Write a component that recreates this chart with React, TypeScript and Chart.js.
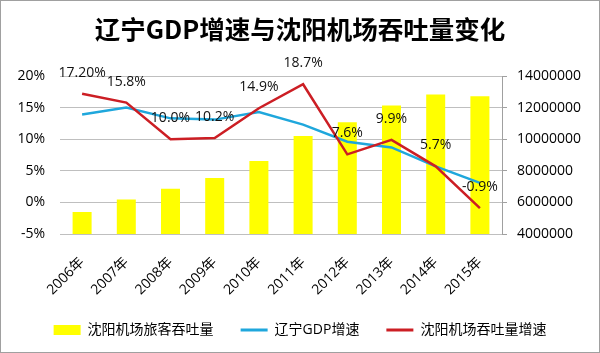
import React, { useEffect, useRef } from 'react';
import { Chart, registerables } from 'chart.js';

Chart.register(...registerables);

const titleText = '辽宁GDP增速与沈阳机场吞吐量变化';
const categories = ['2006年', '2007年', '2008年', '2009年', '2010年', '2011年', '2012年', '2013年', '2014年', '2015年'];
const passengerThroughput = [5400000, 6180000, 6870000, 7550000, 8620000, 10200000, 11070000, 12140000, 12830000, 12720000];
const gdpGrowth = [13.9, 15.0, 13.3, 13.1, 14.3, 12.3, 9.6, 8.7, 5.7, 3.1];
const airportGrowth = [17.2, 15.8, 10.0, 10.2, 14.9, 18.7, 7.6, 9.9, 5.7, -0.9];
const airportGrowthLabels = ['17.20%', '15.8%', '10.0%', '10.2%', '14.9%', '18.7%', '7.6%', '9.9%', '5.7%', '-0.9%'];
const seriesNames = ['沈阳机场旅客吞吐量', '辽宁GDP增速', '沈阳机场吞吐量增速'];

const FONT = "'Open Sans', 'Noto Sans CJK SC', sans-serif";

const labelPlugin = {
  id: 'redLabels',
  afterDatasetsDraw(chart: any) {
    const meta = chart.getDatasetMeta(2);
    const ctx = chart.ctx;
    ctx.save();
    ctx.font = `14px ${FONT}`;
    ctx.fillStyle = '#111';
    ctx.textAlign = 'center';
    ctx.textBaseline = 'middle';
    meta.data.forEach((pt: any, i: number) => {
      ctx.fillText(airportGrowthLabels[i], pt.x, pt.y - 21);
    });
    ctx.restore();
  },
};

const framePlugin = {
  id: 'frame',
  beforeDraw(chart: any) {
    const ctx = chart.ctx;
    ctx.save();
    ctx.fillStyle = '#fff';
    ctx.fillRect(0, 0, chart.width, chart.height);
    ctx.restore();
  },
  afterDraw(chart: any) {
    const ctx = chart.ctx;
    ctx.save();
    ctx.strokeStyle = '#a0a0a0';
    ctx.lineWidth = 1;
    ctx.strokeRect(0.5, 0.5, chart.width - 1, chart.height - 1);
    ctx.restore();
  },
};

export default function App() {
  const ref = useRef<HTMLCanvasElement>(null);
  useEffect(() => {
    const canvas = ref.current;
    if (!canvas) return;
    const chart = new Chart(canvas, {
      type: 'bar',
      data: {
        labels: categories,
        datasets: [
          {
            type: 'bar',
            label: seriesNames[0],
            data: passengerThroughput,
            backgroundColor: '#FFFF00',
            borderWidth: 0,
            yAxisID: 'yR',
            order: 3,
            barPercentage: 0.43,
            categoryPercentage: 1,
          },
          {
            type: 'line',
            label: seriesNames[1],
            data: gdpGrowth,
            borderColor: '#1FA7DC',
            backgroundColor: '#1FA7DC',
            borderWidth: 2.5,
            pointRadius: 0,
            tension: 0,
            yAxisID: 'yL',
            order: 2,
          },
          {
            type: 'line',
            label: seriesNames[2],
            data: airportGrowth,
            borderColor: '#CC1E24',
            backgroundColor: '#CC1E24',
            borderWidth: 2.5,
            pointRadius: 0,
            tension: 0,
            yAxisID: 'yL',
            order: 1,
          },
        ],
      } as any,
      options: {
        responsive: false,
        animation: false,
        layout: { padding: { left: 0, right: 0, top: 0, bottom: 6 } },
        plugins: {
          tooltip: { enabled: false },
          title: {
            display: true,
            text: titleText,
            color: '#000',
            font: { family: "'Noto Sans CJK SC', sans-serif", size: 25.5, weight: 'bold' },
            padding: { top: 14, bottom: 31.4 },
          },
          legend: {
            position: 'bottom',
            labels: {
              color: '#000',
              font: { family: FONT, size: 14 },
              usePointStyle: true,
              pointStyleWidth: 27,
              boxHeight: 10,
              padding: 27,
              generateLabels(c: any) {
                const items = Chart.defaults.plugins.legend.labels.generateLabels(c);
                items.sort((a: any, b: any) => a.datasetIndex - b.datasetIndex);
                items.forEach((it: any) => {
                  if (it.datasetIndex === 0) {
                    it.pointStyle = 'rect';
                    it.lineWidth = 0;
                    it.fillStyle = '#FFFF00';
                    it.strokeStyle = '#FFFF00';
                  } else {
                    it.pointStyle = 'line';
                    it.lineWidth = 3;
                    it.strokeStyle = it.datasetIndex === 1 ? '#1FA7DC' : '#CC1E24';
                  }
                });
                return items;
              },
            },
          },
        },
        scales: {
          x: {
            grid: { display: false },
            border: { display: false },
            ticks: {
              color: '#000',
              font: { family: FONT, size: 14 },
              maxRotation: 45,
              minRotation: 45,
              autoSkip: false,
              padding: 12,
            },
            afterFit(scale: any) {
              scale.height = 62;
            },
          },
          yL: {
            position: 'left',
            min: -5,
            max: 20,
            ticks: {
              stepSize: 5,
              color: '#000',
              font: { family: FONT, size: 14 },
              padding: 15,
              callback: (v: any) => `${v}%`,
            },
            grid: { color: '#BFBFBF', drawTicks: false, lineWidth: 1 },
            border: { display: false },
            afterFit(scale: any) {
              scale.width = 60;
            },
          },
          yR: {
            position: 'right',
            min: 4000000,
            max: 14000000,
            ticks: {
              stepSize: 2000000,
              color: '#000',
              font: { family: FONT, size: 14 },
              padding: 10,
              callback: (v: any) => String(v),
            },
            grid: { drawOnChartArea: false, drawTicks: true, tickLength: 5, color: '#A0A0A0' },
            border: { display: true, color: '#A0A0A0' },
            afterFit(scale: any) {
              scale.width = 98;
            },
          },
        },
      } as any,
      plugins: [framePlugin, labelPlugin],
    });
    return () => chart.destroy();
  }, []);
  return (
    <div style={{ position: 'fixed', left: 0, top: 0, width: 600, height: 353, background: '#fff' }}>
      <canvas ref={ref} width={600} height={353} style={{ display: 'block' }} />
    </div>
  );
}
